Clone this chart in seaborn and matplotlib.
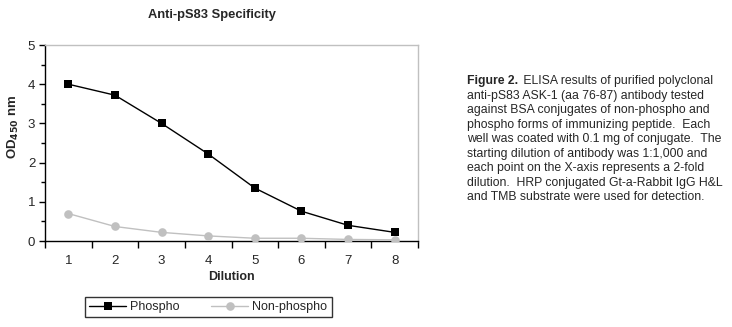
import matplotlib
matplotlib.use("Agg")
import matplotlib.pyplot as plt
import seaborn as sns
import pandas as pd
from matplotlib.ticker import MultipleLocator, FixedLocator, NullFormatter
from matplotlib.lines import Line2D

dilution = [1, 2, 3, 4, 5, 6, 7, 8]
phospho = [4.00, 3.72, 3.00, 2.22, 1.35, 0.76, 0.40, 0.22]
non_phospho = [0.70, 0.37, 0.22, 0.13, 0.07, 0.07, 0.04, 0.03]

sns.set_style("white")
plt.rcParams['font.family'] = ['Liberation Sans', 'DejaVu Sans']

df = pd.DataFrame({
    "Dilution": dilution * 2,
    "OD": phospho + non_phospho,
    "Series": ["Phospho"] * 8 + ["Non-phospho"] * 8,
})

fig = plt.figure(figsize=(7.32, 3.27), dpi=100)
ax = fig.add_axes([45/732, 1 - 241/327, (418 - 45)/732, (241 - 45)/327])

sns.lineplot(data=df, x="Dilution", y="OD", hue="Series", style="Series",
             palette={"Phospho": "black", "Non-phospho": "#c0c0c0"},
             markers={"Phospho": "s", "Non-phospho": "o"},
             dashes=False, linewidth=1, markersize=6.2, markeredgewidth=0,
             ax=ax, legend=False, zorder=3)

ax.set_xlim(0.5, 8.5)
ax.set_ylim(0, 5)
ax.xaxis.set_major_locator(FixedLocator(dilution))
ax.xaxis.set_minor_locator(FixedLocator([x + 0.5 for x in range(0, 9)]))
ax.xaxis.set_minor_formatter(NullFormatter())
ax.yaxis.set_major_locator(MultipleLocator(1))
ax.yaxis.set_minor_locator(MultipleLocator(0.5))
ax.tick_params(axis='x', which='major', length=0, pad=10, labelsize=9.5)
ax.tick_params(axis='x', which='minor', length=5, width=1, direction='out', color='black', bottom=True)
ax.tick_params(axis='y', which='major', length=4, width=1, direction='out', color='black', labelsize=9.5, pad=3, left=True)
ax.tick_params(axis='y', which='minor', length=3, width=1, direction='out', color='black', left=True)

for s in ['left', 'bottom']:
    ax.spines[s].set_color('black')
    ax.spines[s].set_linewidth(1)
for s in ['top', 'right']:
    ax.spines[s].set_color('#c0c0c0')
    ax.spines[s].set_linewidth(1)

ax.set_xlabel("Dilution", fontsize=9, fontweight='bold', labelpad=3)
ax.set_ylabel("OD$_{\\mathbf{450}}$ nm", fontsize=9.5, fontweight='bold')
ax.yaxis.set_label_coords(-0.064, 0.58)

fig.text(212/732, 1 - 15/327, "Anti-pS83 Specificity", ha='center', va='center',
         fontsize=9.3, fontweight='bold')

handles = [
    Line2D([], [], color='black', marker='s', markersize=6.2, markeredgewidth=0, linewidth=1),
    Line2D([], [], color='#c0c0c0', marker='o', markersize=6.2, markeredgewidth=0, linewidth=1),
]
leg = fig.legend(handles, ["Phospho", "Non-phospho"], ncol=2,
                 loc='center', bbox_to_anchor=(208/732, 1 - 307/327),
                 frameon=True, fancybox=False, fontsize=9, handlelength=3,
                 columnspacing=2.5, handletextpad=0.3, borderpad=0.35)
leg.get_frame().set_edgecolor('black')
leg.get_frame().set_linewidth(1)

caption_lines = [
    "ELISA results of purified polyclonal",
    "anti-pS83 ASK-1 (aa 76-87) antibody tested",
    "against BSA conjugates of non-phospho and",
    "phospho forms of immunizing peptide.  Each",
    "well was coated with 0.1 mg of conjugate.  The",
    "starting dilution of antibody was 1:1,000 and",
    "each point on the X-axis represents a 2-fold",
    "dilution.  HRP conjugated Gt-a-Rabbit IgG H&L",
    "and TMB substrate were used for detection.",
]
fs = 8.85
x0 = 467/732
y_first = 1 - 81/327
dy = 14.5/327
t = fig.text(x0, y_first, "Figure 2.", fontsize=fs, fontweight='bold', va='center', ha='left')
fig.canvas.draw()
bb = t.get_window_extent()
fig.text(bb.x1/732 + 0.003, y_first, " " + caption_lines[0], fontsize=fs, va='center', ha='left')
for i, line in enumerate(caption_lines[1:], start=1):
    fig.text(x0, y_first - i*dy, line, fontsize=fs, va='center', ha='left')

fig.savefig("out.png", dpi=100)
